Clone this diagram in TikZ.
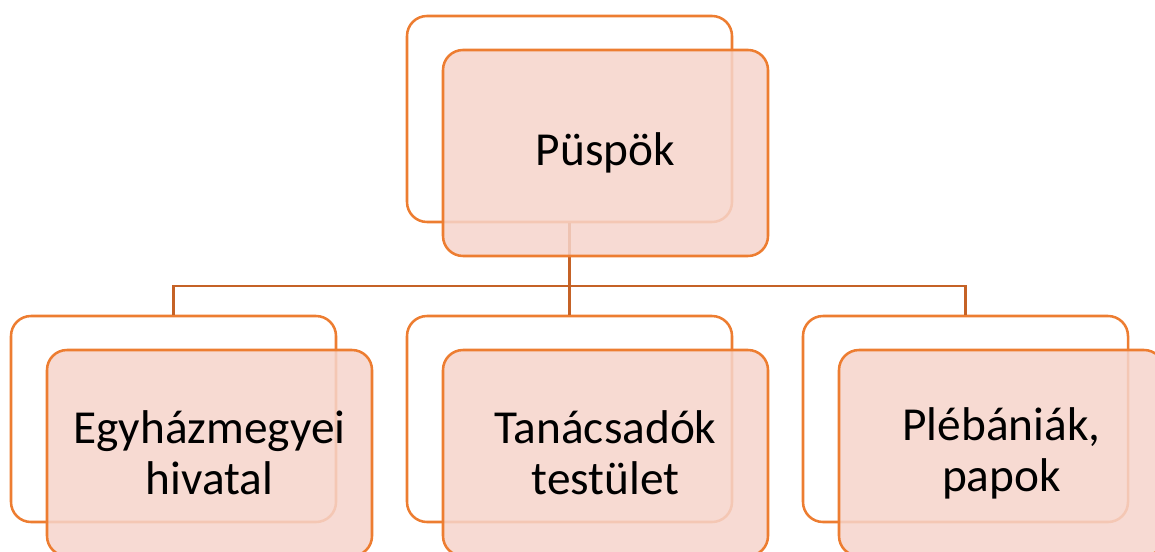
\documentclass[tikz,border=0pt]{standalone}
\usepackage{fontspec}
\setmainfont{Carlito}
\definecolor{boxline}{RGB}{237,125,49}
\definecolor{connline}{RGB}{197,98,38}
\definecolor{boxfill}{RGB}{246,212,203}
\tikzset{
  backbox/.style={draw=boxline, line width=1.9pt, rounded corners=15pt,
    minimum width=243.75pt, minimum height=154.5pt, inner sep=0pt, fill=white},
  frontbox/.style={draw=boxline, line width=1.9pt, rounded corners=15pt,
    minimum width=243.75pt, minimum height=154.5pt, inner sep=0pt,
    fill=boxfill, fill opacity=0.85, text opacity=1, draw opacity=1,
    align=center, font=\fontsize{35.5}{38.25}\selectfont},
  conn/.style={draw=connline, line width=1.9pt}
}
\begin{document}
\begin{tikzpicture}[x=0.75pt,y=-0.75pt]
\useasboundingbox (0,0) rectangle (1155,552);
\clip (0,0) rectangle (1155,552);
% back frames
\node[backbox] (topB) at (569.5,119) {};
\node[backbox] (leftB) at (173.5,419) {};
\node[backbox] (midB) at (569.5,419) {};
\node[backbox] (rightB) at (965.5,419) {};
% hierarchy lines
\coordinate (bus) at (569.5,286);
\draw[conn] (topB.south) -- (bus);
\draw[conn] (leftB.north) |- (bus) -| (rightB.north);
\draw[conn] (bus) -- (midB.north);
% front boxes with labels
\node[frontbox] (top) at (605.5,153) {Püspök};
\node[frontbox] (left) at (209.5,453) {Egyházmegyei\\hivatal};
\node[frontbox] (mid) at (605.5,453) {Tanácsadók\\testület};
\node[frontbox] (right) at (1001.5,453) {Plébániák,\\papok};
\end{tikzpicture}
\end{document}
